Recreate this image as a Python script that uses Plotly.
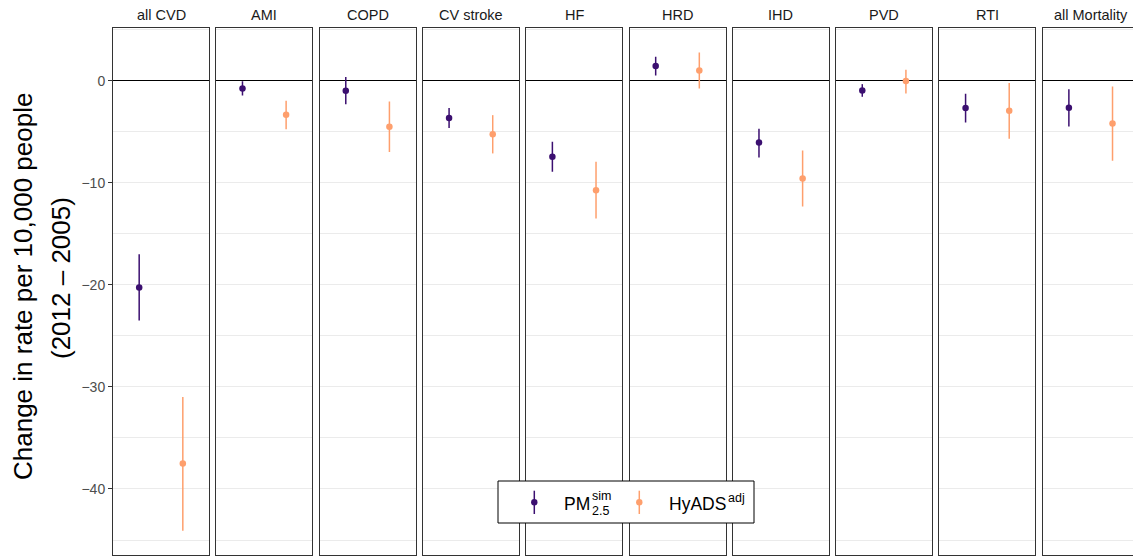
import plotly.graph_objects as go

# ---------------- data ----------------
categories = ["all CVD", "AMI", "COPD", "CV stroke", "HF", "HRD", "IHD", "PVD", "RTI", "all Mortality"]
series_names = ["PM2.5 sim", "HyADS adj"]
series_x = [1, 2]

pm_est = [-20.26, -0.75, -0.98, -3.66, -7.45, 1.44, -6.05, -0.95, -2.68, -2.65]
pm_lo = [-23.5, -1.44, -2.29, -4.64, -8.92, 0.52, -7.52, -1.57, -4.08, -4.48]
pm_hi = [-17.0, -0.05, 0.36, -2.68, -5.98, 2.35, -4.71, -0.33, -1.27, -0.82]

hy_est = [-37.5, -3.33, -4.51, -5.23, -10.72, 1.01, -9.58, -0.03, -2.94, -4.18]
hy_lo = [-44.1, -4.74, -6.99, -7.12, -13.5, -0.75, -12.32, -1.24, -5.69, -7.84]
hy_hi = [-31.0, -1.96, -2.03, -3.37, -7.94, 2.78, -6.83, 1.08, -0.23, -0.56]

major_ticks = [-40, -30, -20, -10, 0]
major_labels = ["\u221240", "\u221230", "\u221220", "\u221210", "0"]
minor_ticks = [-45, -35, -25, -15, -5, 5]

# ---------------- styling / geometry ----------------
PURPLE = "#3B0F70"
ORANGE = "#FE9F6D"
FONT = "Liberation Sans, Arial, Helvetica, sans-serif"

W, H = 1133, 556
L, T, B = 113, 28, 1
PW = W - L
PH = H - T - B
panel_w = 96.0
panel_step = 103.3
ymin, ymax = -46.47, 5.17
px_per_unit = panel_w / 2.2


def px2x(p):
    return (p - L) / PW


def px2y(p):
    return 1 - (p - T) / PH


series = [
    (series_names[0], series_x[0], pm_est, pm_lo, pm_hi, PURPLE),
    (series_names[1], series_x[1], hy_est, hy_lo, hy_hi, ORANGE),
]

fig = go.Figure()
layout = {}
annotations = []
n = len(categories)
for i, cat in enumerate(categories):
    left = L + i * panel_step
    right = min(left + panel_w, W)
    sfx = "" if i == 0 else str(i + 1)
    xa, ya = "x" + sfx, "y" + sfx
    layout["xaxis" + sfx] = dict(
        domain=[px2x(left), px2x(right)],
        range=[0.4, 0.4 + (right - left) / px_per_unit],
        anchor=ya, showline=True, mirror=True, linecolor="#333333", linewidth=1,
        showgrid=False, zeroline=False, showticklabels=False, ticks="", fixedrange=True,
    )
    layout["yaxis" + sfx] = dict(
        domain=[0, 1], range=[ymin, ymax], anchor=xa,
        showline=True, mirror=(i < n - 1), linecolor="#333333", linewidth=1,
        tickmode="array", tickvals=major_ticks, ticktext=major_labels,
        showticklabels=(i == 0), ticks=("outside" if i == 0 else ""), ticklen=4,
        tickcolor="#333333", tickwidth=1,
        tickfont=dict(family=FONT, size=14, color="#4D4D4D"),
        showgrid=True, gridcolor="#EBEBEB", gridwidth=1,
        minor=dict(tickvals=minor_ticks, showgrid=True, gridcolor="#EBEBEB", gridwidth=1, ticks=""),
        zeroline=True, zerolinecolor="black", zerolinewidth=1.2, fixedrange=True,
    )
    for name, xv, est, lo, hi, col in series:
        fig.add_trace(go.Scatter(
            x=[xv], y=[est[i]], mode="markers", name=name, showlegend=False,
            marker=dict(color=col, size=6.5),
            error_y=dict(type="data", symmetric=False, array=[hi[i] - est[i]],
                         arrayminus=[est[i] - lo[i]], width=0, thickness=1.5, color=col),
            xaxis=xa, yaxis=ya, hoverinfo="skip",
        ))
    # strip label
    annotations.append(dict(
        text=cat, x=px2x(left + panel_w / 2), y=px2y(15), xref="paper", yref="paper",
        xanchor="center", yanchor="middle", showarrow=False,
        font=dict(family=FONT, size=14.5, color="#1A1A1A"),
    ))

# y axis title (two lines)
annotations.append(dict(
    text="Change in rate per 10,000 people", x=px2x(23), y=px2y(287),
    xref="paper", yref="paper", xanchor="center", yanchor="middle", textangle=-90,
    showarrow=False, font=dict(family=FONT, size=26, color="black"),
))
annotations.append(dict(
    text="(2012 \u2013 2005)", x=px2x(61), y=px2y(278),
    xref="paper", yref="paper", xanchor="center", yanchor="middle", textangle=-90,
    showarrow=False, font=dict(family=FONT, size=26, color="black"),
))

# ---------------- manual legend ----------------
shapes = []
shapes.append(dict(type="rect", xref="paper", yref="paper",
                   x0=px2x(498), x1=px2x(754), y0=px2y(523), y1=px2y(481),
                   line=dict(color="black", width=1), fillcolor="white", layer="above"))
for cx, col in [(534.3, PURPLE), (639.3, ORANGE)]:
    shapes.append(dict(type="line", xref="paper", yref="paper",
                       x0=px2x(cx), x1=px2x(cx), y0=px2y(514), y1=px2y(490.7),
                       line=dict(color=col, width=1.5), layer="above"))
    shapes.append(dict(type="circle", xref="paper", yref="paper",
                       x0=px2x(cx - 3.2), x1=px2x(cx + 3.2), y0=px2y(502.3 + 3.2), y1=px2y(502.3 - 3.2),
                       line=dict(color=col, width=0), fillcolor=col, layer="above"))

leg_font = dict(family=FONT, size=17.5, color="black")
small_font = dict(family=FONT, size=12.5, color="black")
annotations += [
    dict(text="PM", x=px2x(561.5), y=px2y(503.5), xref="paper", yref="paper",
         xanchor="left", yanchor="middle", showarrow=False, font=leg_font),
    dict(text="sim", x=px2x(589.5), y=px2y(496), xref="paper", yref="paper",
         xanchor="left", yanchor="middle", showarrow=False, font=small_font),
    dict(text="2.5", x=px2x(589.5), y=px2y(510.5), xref="paper", yref="paper",
         xanchor="left", yanchor="middle", showarrow=False, font=small_font),
    dict(text="HyADS", x=px2x(666.5), y=px2y(503.5), xref="paper", yref="paper",
         xanchor="left", yanchor="middle", showarrow=False, font=leg_font),
    dict(text="adj", x=px2x(725.5), y=px2y(498), xref="paper", yref="paper",
         xanchor="left", yanchor="middle", showarrow=False, font=small_font),
]

fig.update_layout(
    width=W, height=H,
    margin=dict(l=L, r=0, t=T, b=B, pad=0),
    paper_bgcolor="white", plot_bgcolor="white",
    showlegend=False, hovermode=False,
    annotations=annotations, shapes=shapes,
    font=dict(family=FONT),
    **layout,
)

fig.write_html(
    "out.html",
    config={"displayModeBar": False, "staticPlot": True},
    post_script="document.body.style.margin='0';document.body.style.padding='0';"
                "document.body.style.overflow='hidden';",
)
